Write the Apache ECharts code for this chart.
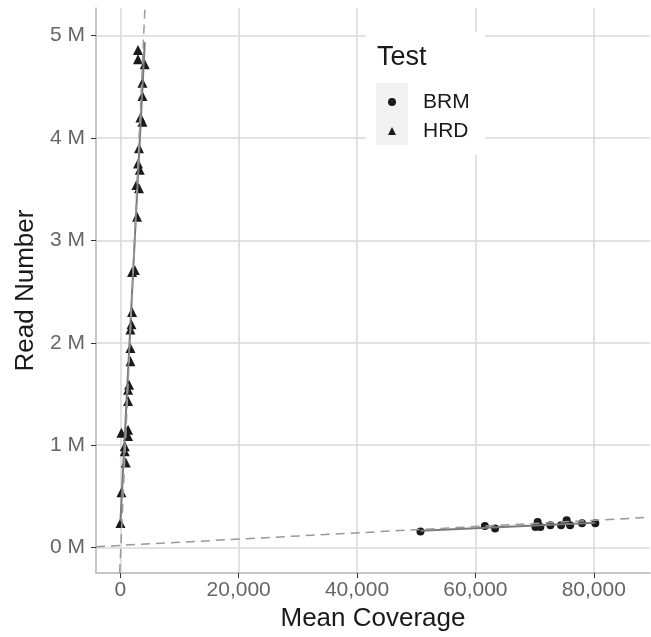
<!DOCTYPE html>
<html>
<head>
<meta charset="utf-8">
<script src="https://cdn.jsdelivr.net/npm/echarts@6/dist/echarts.min.js"></script>
<style>
html, body { margin: 0; padding: 0; background: #fff; }
#main { width: 651px; height: 637px; }
</style>
</head>
<body>
<div id="main"></div>
<script>
var myChart = echarts.init(document.getElementById('main'));
var FONT = 'Liberation Sans, Arial, sans-serif';

// BRM samples: mean coverage / read number
var brmCoverage = [50720, 61600, 63330, 70140, 70520, 70980, 72670, 74470, 75420, 76000, 78020, 80260];
var brmReads = [156000, 211000, 185000, 201000, 250000, 201000, 217000, 217000, 266000, 217000, 237000, 237000];

// HRD samples
var hrdCoverage = [3000, 3000, 4140, 3750, 3750, 3410, 3750, 3170, 3000, 3290, 2730, 3170, 2840, 2450, 1990, 1990,
	1890, 1720, 1720, 1720, 1490, 1320, 1320, 200, 1320, 1320, 760, 760, 930, 200, 30];
var hrdReads = [4860000, 4770000, 4720000, 4540000, 4410000, 4200000, 4160000, 3900000, 3750000, 3690000, 3540000,
	3510000, 3230000, 2710000, 2690000, 2300000, 2180000, 2130000, 1950000, 1820000, 1590000, 1540000, 1430000,
	1120000, 1150000, 1090000, 990000, 940000, 830000, 540000, 240000];

// fitted lines (solid) and reference lines (dashed), endpoints
var brmFit = [[50720, 164000], [80260, 242000]];
var hrdFit = [[30, 256000], [4140, 4935000]];
var brmRef = [[-4100, 8000], [89500, 295000]];
var hrdRef = [[-100, -250000], [4160, 5270000]];

var xTicks = [0, 20000, 40000, 60000, 80000];
var yTicks = [0, 1000000, 2000000, 3000000, 4000000, 5000000];

var TRIANGLE = 'path://M0,10L5,0L10,10Z';

function pairs(xs, ys) {
	return xs.map(function(x, i) { return [x, ys[i]]; });
}

function comma(v) {
	return String(v).replace(/\B(?=(\d{3})+(?!\d))/g, ',');
}

var gridColor = '#d9d9d9';

var option = {
	backgroundColor: '#fff',
	animation: false,
	grid: {
		left: 96,
		right: 1,
		top: 8,
		bottom: 63
	},
	xAxis: {
		type: 'value',
		min: -4100,
		max: 89500,
		name: 'Mean Coverage',
		nameLocation: 'middle',
		nameGap: 25,
		nameTextStyle: { fontFamily: FONT, fontSize: 26, color: '#1a1a1a' },
		axisLine: { onZero: false, lineStyle: { color: '#b3b3b3', width: 1.5 } },
		axisTick: { customValues: xTicks, length: 5, lineStyle: { color: '#333', width: 1 } },
		axisLabel: {
			customValues: xTicks,
			margin: 7,
			fontFamily: FONT,
			fontSize: 21,
			color: '#666',
			formatter: function(v) { return comma(v); }
		},
		splitLine: { show: true, lineStyle: { color: gridColor, width: 1.5 } }
	},
	yAxis: {
		type: 'value',
		min: -250000,
		max: 5270000,
		name: 'Read Number',
		nameLocation: 'middle',
		nameGap: 56,
		nameTextStyle: { fontFamily: FONT, fontSize: 26, color: '#1a1a1a' },
		axisLine: { onZero: false, lineStyle: { color: '#b3b3b3', width: 1.5 } },
		axisTick: { customValues: yTicks, length: 5, lineStyle: { color: '#333', width: 1 } },
		axisLabel: {
			customValues: yTicks,
			margin: 11,
			fontFamily: FONT,
			fontSize: 21,
			color: '#666',
			formatter: function(v) { return (v / 1000000) + ' M'; }
		},
		splitLine: { show: true, lineStyle: { color: gridColor, width: 1.5 } }
	},
	legend: {
		orient: 'vertical',
		left: 383,
		top: 86,
		itemWidth: 8,
		itemHeight: 8,
		itemGap: 7,
		symbolKeepAspect: true,
		data: [
			{ name: 'BRM', icon: 'circle' },
			{ name: 'HRD', icon: TRIANGLE }
		],
		textStyle: { fontFamily: FONT, fontSize: 21, color: '#1a1a1a', lineHeight: 22, padding: [0, 0, 0, 22] },
		z: 20
	},
	graphic: [
		{
			type: 'rect',
			shape: { x: 366, y: 32, width: 119, height: 123 },
			style: { fill: '#fff' },
			z: 10
		},
		{
			type: 'rect',
			shape: { x: 376, y: 83, width: 32, height: 62 },
			style: { fill: '#f2f2f2' },
			z: 11
		},
		{
			type: 'text',
			x: 377,
			y: 58,
			style: {
				text: 'Test',
				fontFamily: FONT,
				fontSize: 27,
				fill: '#1a1a1a',
				verticalAlign: 'middle'
			},
			z: 11
		}
	],
	series: [
		{
			name: 'BRM',
			type: 'scatter',
			symbol: 'circle',
			symbolSize: 8,
			itemStyle: { color: '#1a1a1a', opacity: 1 },
			data: pairs(brmCoverage, brmReads),
			z: 2
		},
		{
			name: 'HRD',
			type: 'scatter',
			symbol: 'triangle',
			symbolSize: 10,
			itemStyle: { color: '#1a1a1a', opacity: 1 },
			data: pairs(hrdCoverage, hrdReads),
			z: 2
		},
		{
			type: 'line',
			data: brmFit,
			symbol: 'none',
			lineStyle: { color: '#7a7a7a', width: 2 },
			z: 3
		},
		{
			type: 'line',
			data: hrdFit,
			symbol: 'none',
			lineStyle: { color: '#7a7a7a', width: 2 },
			z: 3
		},
		{
			type: 'line',
			data: brmRef,
			symbol: 'none',
			lineStyle: { color: '#999', width: 1.5, type: [9, 6] },
			z: 4
		},
		{
			type: 'line',
			data: hrdRef,
			symbol: 'none',
			lineStyle: { color: '#999', width: 1.5, type: [9, 6] },
			z: 4
		}
	]
};

myChart.setOption(option);
</script>
</body>
</html>
